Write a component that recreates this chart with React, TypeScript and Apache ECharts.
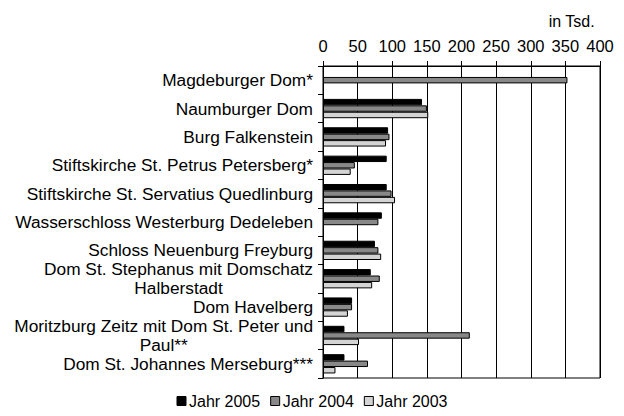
import React, { useEffect, useRef } from "react";
import * as echarts from "echarts";

const categories = [
  "Magdeburger Dom*",
  "Naumburger Dom",
  "Burg Falkenstein",
  "Stiftskirche St. Petrus Petersberg*",
  "Stiftskirche St. Servatius Quedlinburg",
  "Wasserschloss Westerburg Dedeleben",
  "Schloss Neuenburg Freyburg",
  "Dom St. Stephanus mit Domschatz\nHalberstadt",
  "Dom Havelberg",
  "Moritzburg Zeitz mit Dom St. Peter und\nPaul**",
  "Dom St. Johannes Merseburg***",
];

const jahr2005 = [null, 143, 94, 92, 92, 85, 75, 69, 42, 31, 31];
const jahr2004 = [353, 150, 96, 46, 99, 80, 80, 82, 42, 212, 65];
const jahr2003 = [null, 152, 91, 40, 104, null, 84, 71, 36, 52, 18];

const seriesNames = ["Jahr 2005", "Jahr 2004", "Jahr 2003"];
const seriesColors = ["#000000", "#888888", "#d4d4d4"];
const xTicks = { min: 0, max: 400, interval: 50 };

const FONT = "'Liberation Sans', Arial, sans-serif";

export default function App() {
  const ref = useRef<HTMLDivElement>(null);
  useEffect(() => {
    if (!ref.current) return;
    const chart = echarts.init(ref.current, null, { renderer: "svg" });
    const data = [jahr2005, jahr2004, jahr2003];
    chart.setOption({
      animation: false,
      backgroundColor: "#ffffff",
      textStyle: { fontFamily: FONT, color: "#000" },
      title: {
        text: "in Tsd.",
        right: 24,
        top: 8,
        textStyle: { fontFamily: FONT, fontSize: 16, fontWeight: "normal", color: "#000" },
      },
      legend: {
        bottom: 2,
        left: "center",
        itemWidth: 9,
        itemHeight: 9,
        itemGap: 10,
        icon: "rect",
        textStyle: { fontFamily: FONT, fontSize: 16, color: "#000", padding: [0, 0, 0, -2] },
        data: seriesNames.map((n) => ({ name: n, itemStyle: { borderColor: "#000", borderWidth: 1 } })),
      },
      grid: {
        left: 323,
        right: 24,
        top: 66,
        bottom: 38,
        show: true,
        borderColor: "#000",
        borderWidth: 1,
      },
      xAxis: {
        type: "value",
        position: "top",
        min: xTicks.min,
        max: xTicks.max,
        interval: xTicks.interval,
        axisLine: { show: true, lineStyle: { color: "#000" } },
        axisTick: { show: true, length: 5, lineStyle: { color: "#000" } },
        splitLine: { show: true, lineStyle: { color: "#000" } },
        axisLabel: { fontFamily: FONT, fontSize: 16.5, color: "#000", margin: 12 },
      },
      yAxis: {
        type: "category",
        inverse: true,
        data: categories,
        axisLine: { show: true, lineStyle: { color: "#000" } },
        axisTick: { show: true, length: 5, lineStyle: { color: "#000" } },
        axisLabel: {
          interval: 0,
          hideOverlap: false,
          fontFamily: FONT,
          fontSize: 17.3,
          color: "#000",
          margin: 10,
          lineHeight: 18.5,
          formatter: (v: string) =>
            v.indexOf("\n") >= 0
              ? v
                  .split("\n")
                  .map((l) => "{c|" + l + "}")
                  .join("\n")
              : v,
          rich: {
            c: { align: "center", fontFamily: FONT, fontSize: 17.3, color: "#000", lineHeight: 18.5 },
          },
        },
      },
      series: data.map((d, i) => ({
        name: seriesNames[i],
        type: "bar",
        data: d,
        barGap: "0%",
        barCategoryGap: "32%",
        itemStyle: { color: seriesColors[i], borderColor: "#000", borderWidth: 1 },
      })),
    });
    return () => chart.dispose();
  }, []);
  return (
    <div
      ref={ref}
      style={{ position: "fixed", left: 0, top: 0, width: 624, height: 416, background: "#fff" }}
    />
  );
}
